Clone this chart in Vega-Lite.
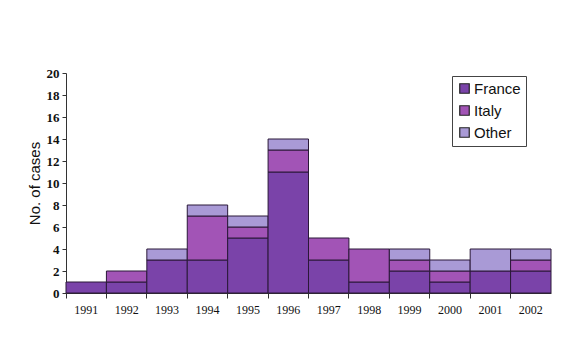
{
  "$schema": "https://vega.github.io/schema/vega-lite/v6.json",
  "width": 485,
  "height": 220,
  "autosize": "none",
  "padding": {"left": 66, "top": 73, "right": 19, "bottom": 49},
  "background": "white",
  "data": {
    "values": [
      {"year": "1991", "origin": "France", "cases": 1},
      {"year": "1992", "origin": "France", "cases": 1},
      {"year": "1992", "origin": "Italy", "cases": 1},
      {"year": "1993", "origin": "France", "cases": 3},
      {"year": "1993", "origin": "Other", "cases": 1},
      {"year": "1994", "origin": "France", "cases": 3},
      {"year": "1994", "origin": "Italy", "cases": 4},
      {"year": "1994", "origin": "Other", "cases": 1},
      {"year": "1995", "origin": "France", "cases": 5},
      {"year": "1995", "origin": "Italy", "cases": 1},
      {"year": "1995", "origin": "Other", "cases": 1},
      {"year": "1996", "origin": "France", "cases": 11},
      {"year": "1996", "origin": "Italy", "cases": 2},
      {"year": "1996", "origin": "Other", "cases": 1},
      {"year": "1997", "origin": "France", "cases": 3},
      {"year": "1997", "origin": "Italy", "cases": 2},
      {"year": "1998", "origin": "France", "cases": 1},
      {"year": "1998", "origin": "Italy", "cases": 3},
      {"year": "1999", "origin": "France", "cases": 2},
      {"year": "1999", "origin": "Italy", "cases": 1},
      {"year": "1999", "origin": "Other", "cases": 1},
      {"year": "2000", "origin": "France", "cases": 1},
      {"year": "2000", "origin": "Italy", "cases": 1},
      {"year": "2000", "origin": "Other", "cases": 1},
      {"year": "2001", "origin": "France", "cases": 2},
      {"year": "2001", "origin": "Other", "cases": 2},
      {"year": "2002", "origin": "France", "cases": 2},
      {"year": "2002", "origin": "Italy", "cases": 1},
      {"year": "2002", "origin": "Other", "cases": 1}
    ]
  },
  "mark": {"type": "bar", "stroke": "#2a1838", "strokeWidth": 1},
  "encoding": {
    "x": {
      "field": "year",
      "type": "ordinal",
      "scale": {"paddingInner": 0, "paddingOuter": 0},
      "axis": {
        "title": null,
        "labelAngle": 0,
        "labelFont": "Liberation Serif",
        "labelFontSize": 12,
        "labelColor": "#111",
        "labelPadding": 6,
        "tickSize": 5,
        "bandPosition": 0,
        "tickColor": "#333",
        "domainColor": "#333",
        "grid": false
      }
    },
    "y": {
      "field": "cases",
      "type": "quantitative",
      "aggregate": "sum",
      "stack": "zero",
      "scale": {"domain": [0, 20], "nice": false},
      "axis": {
        "title": "No. of cases",
        "titleFont": "Liberation Sans",
        "titleFontSize": 15,
        "titleFontWeight": "normal",
        "titleColor": "#111",
        "titlePadding": 4,
        "values": [0, 2, 4, 6, 8, 10, 12, 14, 16, 18, 20],
        "labelFont": "Liberation Serif",
        "labelFontSize": 13,
        "labelFontWeight": "bold",
        "labelColor": "#111",
        "labelPadding": 3,
        "tickSize": 4,
        "tickColor": "#333",
        "domainColor": "#333",
        "grid": false
      }
    },
    "color": {
      "field": "origin",
      "type": "nominal",
      "scale": {
        "domain": ["France", "Italy", "Other"],
        "range": ["#7a43a9", "#a254b6", "#a99ad6"]
      },
      "legend": {
        "title": null,
        "orient": "none",
        "legendX": 386,
        "legendY": 3,
        "strokeColor": "#444",
        "padding": 5,
        "symbolType": "square",
        "symbolSize": 90,
        "symbolStrokeColor": "#222",
        "symbolStrokeWidth": 1.2,
        "labelFont": "Liberation Sans",
        "labelFontSize": 15,
        "labelColor": "#111",
        "rowPadding": 6,
        "labelOffset": 2
      }
    },
    "order": {"field": "origin", "sort": "ascending"}
  },
  "config": {"view": {"stroke": null}}
}
